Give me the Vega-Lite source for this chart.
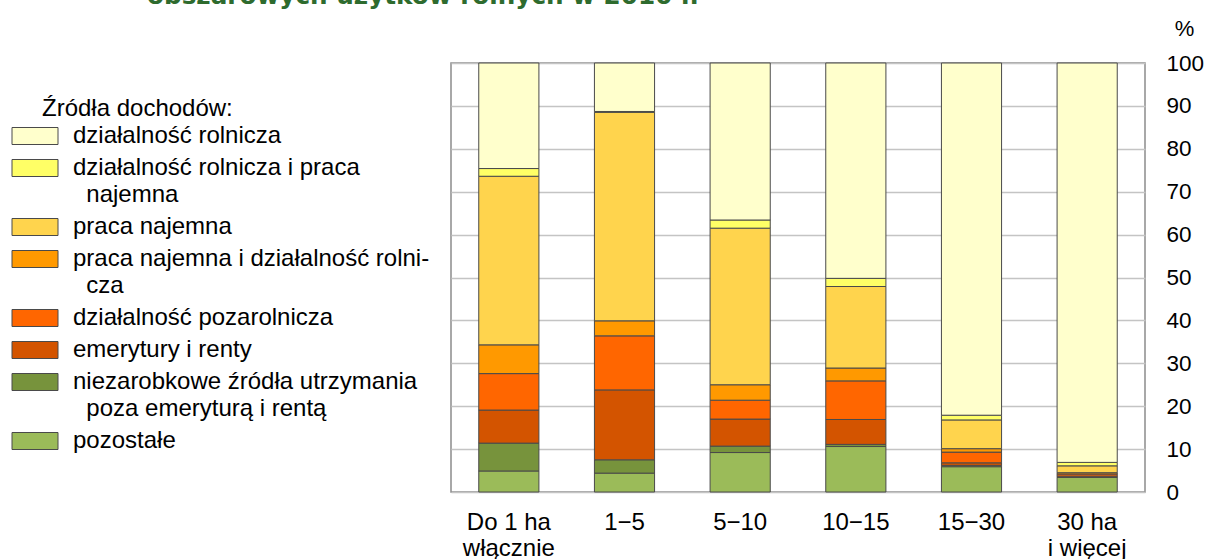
{
  "$schema": "https://vega.github.io/schema/vega-lite/v6.json",
  "width": 694,
  "height": 429,
  "autosize": {"type": "none"},
  "padding": {"left": 451, "top": 63, "right": 62, "bottom": 67},
  "background": "white",
  "title": {
    "text": "obszarowych użytków rolnych w 2010 r.",
    "anchor": "start",
    "frame": "group",
    "orient": "top",
    "offset": 0,
    "dx": -304,
    "dy": 12,
    "baseline": "alphabetic",
    "font": "DejaVu Sans",
    "fontSize": 24.7,
    "fontWeight": "bold",
    "color": "#2E6B2E"
  },
  "data": {
    "values": [
      {"grupa": "Do 1 ha włącznie", "zrodlo": "pozostałe", "udzial": 4.9},
      {"grupa": "Do 1 ha włącznie", "zrodlo": "niezarobkowe źródła utrzymania poza emeryturą i rentą", "udzial": 6.5},
      {"grupa": "Do 1 ha włącznie", "zrodlo": "emerytury i renty", "udzial": 7.7},
      {"grupa": "Do 1 ha włącznie", "zrodlo": "działalność pozarolnicza", "udzial": 8.5},
      {"grupa": "Do 1 ha włącznie", "zrodlo": "praca najemna i działalność rolnicza", "udzial": 6.7},
      {"grupa": "Do 1 ha włącznie", "zrodlo": "praca najemna", "udzial": 39.3},
      {"grupa": "Do 1 ha włącznie", "zrodlo": "działalność rolnicza i praca najemna", "udzial": 1.8},
      {"grupa": "Do 1 ha włącznie", "zrodlo": "działalność rolnicza", "udzial": 24.6},
      {"grupa": "1−5", "zrodlo": "pozostałe", "udzial": 4.4},
      {"grupa": "1−5", "zrodlo": "niezarobkowe źródła utrzymania poza emeryturą i rentą", "udzial": 3.1},
      {"grupa": "1−5", "zrodlo": "emerytury i renty", "udzial": 16.3},
      {"grupa": "1−5", "zrodlo": "działalność pozarolnicza", "udzial": 12.6},
      {"grupa": "1−5", "zrodlo": "praca najemna i działalność rolnicza", "udzial": 3.5},
      {"grupa": "1−5", "zrodlo": "praca najemna", "udzial": 48.6},
      {"grupa": "1−5", "zrodlo": "działalność rolnicza i praca najemna", "udzial": 0.2},
      {"grupa": "1−5", "zrodlo": "działalność rolnicza", "udzial": 11.3},
      {"grupa": "5−10", "zrodlo": "pozostałe", "udzial": 9.2},
      {"grupa": "5−10", "zrodlo": "niezarobkowe źródła utrzymania poza emeryturą i rentą", "udzial": 1.5},
      {"grupa": "5−10", "zrodlo": "emerytury i renty", "udzial": 6.3},
      {"grupa": "5−10", "zrodlo": "działalność pozarolnicza", "udzial": 4.4},
      {"grupa": "5−10", "zrodlo": "praca najemna i działalność rolnicza", "udzial": 3.6},
      {"grupa": "5−10", "zrodlo": "praca najemna", "udzial": 36.5},
      {"grupa": "5−10", "zrodlo": "działalność rolnicza i praca najemna", "udzial": 1.9},
      {"grupa": "5−10", "zrodlo": "działalność rolnicza", "udzial": 36.6},
      {"grupa": "10−15", "zrodlo": "pozostałe", "udzial": 10.6},
      {"grupa": "10−15", "zrodlo": "niezarobkowe źródła utrzymania poza emeryturą i rentą", "udzial": 0.5},
      {"grupa": "10−15", "zrodlo": "emerytury i renty", "udzial": 5.8},
      {"grupa": "10−15", "zrodlo": "działalność pozarolnicza", "udzial": 9.0},
      {"grupa": "10−15", "zrodlo": "praca najemna i działalność rolnicza", "udzial": 3.0},
      {"grupa": "10−15", "zrodlo": "praca najemna", "udzial": 19.0},
      {"grupa": "10−15", "zrodlo": "działalność rolnicza i praca najemna", "udzial": 1.9},
      {"grupa": "10−15", "zrodlo": "działalność rolnicza", "udzial": 50.2},
      {"grupa": "15−30", "zrodlo": "pozostałe", "udzial": 5.9},
      {"grupa": "15−30", "zrodlo": "niezarobkowe źródła utrzymania poza emeryturą i rentą", "udzial": 0.3},
      {"grupa": "15−30", "zrodlo": "emerytury i renty", "udzial": 0.6},
      {"grupa": "15−30", "zrodlo": "działalność pozarolnicza", "udzial": 2.5},
      {"grupa": "15−30", "zrodlo": "praca najemna i działalność rolnicza", "udzial": 0.8},
      {"grupa": "15−30", "zrodlo": "praca najemna", "udzial": 6.7},
      {"grupa": "15−30", "zrodlo": "działalność rolnicza i praca najemna", "udzial": 1.1},
      {"grupa": "15−30", "zrodlo": "działalność rolnicza", "udzial": 82.1},
      {"grupa": "30 ha i więcej", "zrodlo": "pozostałe", "udzial": 3.4},
      {"grupa": "30 ha i więcej", "zrodlo": "niezarobkowe źródła utrzymania poza emeryturą i rentą", "udzial": 0.1},
      {"grupa": "30 ha i więcej", "zrodlo": "emerytury i renty", "udzial": 0.2},
      {"grupa": "30 ha i więcej", "zrodlo": "działalność pozarolnicza", "udzial": 0.5},
      {"grupa": "30 ha i więcej", "zrodlo": "praca najemna i działalność rolnicza", "udzial": 0.3},
      {"grupa": "30 ha i więcej", "zrodlo": "praca najemna", "udzial": 1.6},
      {"grupa": "30 ha i więcej", "zrodlo": "działalność rolnicza i praca najemna", "udzial": 0.8},
      {"grupa": "30 ha i więcej", "zrodlo": "działalność rolnicza", "udzial": 93.1}
    ]
  },
  "transform": [
    {"window": [{"op": "row_number", "as": "warstwa"}], "groupby": ["grupa"]}
  ],
  "mark": {"type": "bar", "stroke": "#4a4a4a", "strokeWidth": 1},
  "encoding": {
    "x": {
      "field": "grupa",
      "type": "nominal",
      "sort": ["Do 1 ha włącznie", "1−5", "5−10", "10−15", "15−30", "30 ha i więcej"],
      "scale": {"paddingInner": 0.48, "paddingOuter": 0.24},
      "axis": {
        "title": null,
        "labelAngle": 0,
        "labelFont": "Liberation Sans",
        "labelFontSize": 24,
        "labelColor": "black",
        "labelBaseline": "top",
        "labelPadding": 18,
        "labelLineHeight": 26,
        "ticks": false,
        "domain": false,
        "labelExpr": "datum.label == 'Do 1 ha włącznie' ? ['Do 1 ha', 'włącznie'] : datum.label == '30 ha i więcej' ? ['30 ha', 'i więcej'] : datum.label"
      }
    },
    "y": {
      "field": "udzial",
      "type": "quantitative",
      "stack": "zero",
      "scale": {"domain": [0, 100], "nice": false},
      "axis": {
        "orient": "right",
        "values": [0, 10, 20, 30, 40, 50, 60, 70, 80, 90, 100],
        "title": "%",
        "titleAngle": 0,
        "titleAlign": "center",
        "titleBaseline": "middle",
        "titleX": 39,
        "titleY": -35,
        "titleFont": "Liberation Sans",
        "titleFontSize": 22,
        "titleFontWeight": "normal",
        "titleColor": "black",
        "labelFont": "Liberation Sans",
        "labelFontSize": 22.5,
        "labelColor": "black",
        "labelPadding": 21,
        "ticks": false,
        "domain": false,
        "grid": true,
        "gridColor": "#c4c4c4",
        "gridWidth": 1.5
      }
    },
    "order": {"field": "warstwa", "type": "quantitative", "sort": "ascending"},
    "color": {
      "field": "zrodlo",
      "type": "nominal",
      "scale": {
        "domain": [
          "pozostałe",
          "niezarobkowe źródła utrzymania poza emeryturą i rentą",
          "emerytury i renty",
          "działalność pozarolnicza",
          "praca najemna i działalność rolnicza",
          "praca najemna",
          "działalność rolnicza i praca najemna",
          "działalność rolnicza"
        ],
        "range": ["#9BBB59", "#77933C", "#D35400", "#FF6600", "#FF9900", "#FFD44D", "#FFFF66", "#FFFFCC"]
      },
      "legend": {
        "title": "Źródła dochodów:",
        "orient": "none",
        "legendX": -409,
        "legendY": 34,
        "values": [
          "działalność rolnicza",
          "działalność rolnicza i praca najemna",
          "praca najemna",
          "praca najemna i działalność rolnicza",
          "działalność pozarolnicza",
          "emerytury i renty",
          "niezarobkowe źródła utrzymania poza emeryturą i rentą",
          "pozostałe"
        ],
        "labelExpr": "datum.label == 'działalność rolnicza i praca najemna' ? ['działalność rolnicza i praca', '\u200b\u00a0\u00a0najemna'] : datum.label == 'praca najemna i działalność rolnicza' ? ['praca najemna i działalność rolni-', '\u200b\u00a0\u00a0cza'] : datum.label == 'niezarobkowe źródła utrzymania poza emeryturą i rentą' ? ['niezarobkowe źródła utrzymania', '\u200b\u00a0\u00a0poza emeryturą i rentą'] : datum.label",
        "titleFont": "Liberation Sans",
        "titleFontSize": 24,
        "titleFontWeight": "normal",
        "titleColor": "black",
        "titleLimit": 500,
        "titlePadding": 10,
        "labelFont": "Liberation Sans",
        "labelFontSize": 24,
        "labelColor": "black",
        "labelLimit": 500,
        "labelOffset": 7,
        "labelBaseline": "alphabetic",
        "symbolType": "M-21,-7.75H2V0.75H-21Z",
        "symbolSize": 16,
        "symbolStrokeColor": "#4a4a4a",
        "symbolStrokeWidth": 1,
        "symbolOpacity": 1,
        "rowPadding": 8
      }
    }
  },
  "config": {
    "view": {"stroke": "#8c8c8c", "strokeWidth": 1.5},
    "style": {"guide-label": {"lineHeight": 26.5}}
  }
}
